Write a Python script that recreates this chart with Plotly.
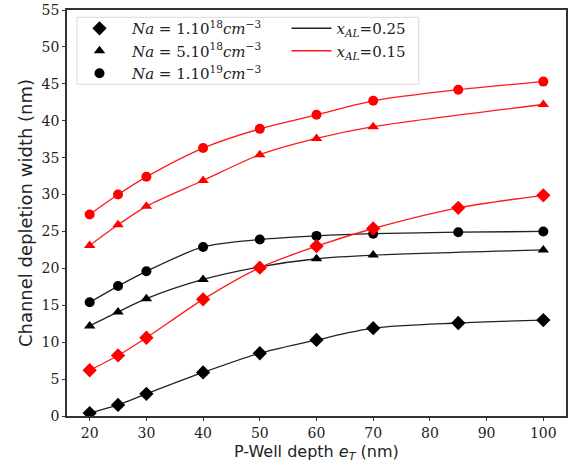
import plotly.graph_objects as go

x_full = [20, 25, 30, 40, 50, 60, 70, 85, 100]
x_tri = [20, 25, 30, 40, 50, 60, 70, 100]

# x_AL = 0.25 (black)
blk_na1e18 = [0.4, 1.5, 3.0, 5.9, 8.5, 10.3, 11.9, 12.6, 13.0]
blk_na5e18 = [12.2, 14.1, 15.9, 18.5, 20.2, 21.3, 21.8, 22.5]
blk_na1e19 = [15.4, 17.6, 19.6, 22.9, 23.9, 24.4, 24.7, 24.9, 25.0]
# x_AL = 0.15 (red)
red_na1e18 = [6.2, 8.2, 10.6, 15.8, 20.1, 23.0, 25.4, 28.2, 29.9]
red_na5e18 = [23.1, 25.9, 28.4, 31.9, 35.4, 37.6, 39.2, 42.2]
red_na1e19 = [27.3, 30.0, 32.4, 36.3, 38.9, 40.8, 42.7, 44.2, 45.3]

na_labels = ["<i>Na</i> = 1.10<sup>18</sup><i>cm</i><sup>−3</sup>",
             "<i>Na</i> = 5.10<sup>18</sup><i>cm</i><sup>−3</sup>",
             "<i>Na</i> = 1.10<sup>19</sup><i>cm</i><sup>−3</sup>"]
xal_labels = ["<i>x<sub>AL</sub></i>=0.25", "<i>x<sub>AL</sub></i>=0.15"]
symbols = ["diamond", "triangle-up", "circle"]
msizes = [11, 10, 10]
x_title = "P-Well depth <i>e<sub>T</sub></i> (nm)"
y_title = "Channel depletion width (nm)"

fig = go.Figure()

series = [
    (x_full, blk_na1e18, "black", 0), (x_tri, blk_na5e18, "black", 1), (x_full, blk_na1e19, "black", 2),
    (x_full, red_na1e18, "red", 0), (x_tri, red_na5e18, "red", 1), (x_full, red_na1e19, "red", 2),
]
for xs, ys, col, k in series:
    fig.add_trace(go.Scatter(
        x=xs, y=ys, mode="lines+markers",
        line=dict(color="#222222" if col == "black" else "#ff1a1a", width=1.3, shape="spline", smoothing=0.8),
        marker=dict(symbol=symbols[k], size=msizes[k], color="black" if col == "black" else "red"),
        showlegend=False, hoverinfo="x+y"))

for k in range(3):
    fig.add_trace(go.Scatter(x=[None], y=[None], mode="markers", name=na_labels[k],
                             marker=dict(symbol=symbols[k], size=msizes[k], color="black"),
                             legend="legend"))
for lab, col in zip(xal_labels, ["#222222", "#ff1a1a"]):
    fig.add_trace(go.Scatter(x=[None], y=[None], mode="lines", name=lab,
                             line=dict(color=col, width=1.5), legend="legend2"))

serif = "DejaVu Serif"
fig.add_shape(type="rect", xref="paper", yref="paper", x0=0.02, x1=0.705, y0=0.817, y1=0.982,
              line=dict(color="#d9d9d9", width=1), fillcolor="rgba(255,255,255,0.85)", layer="above")

fig.add_annotation(text=x_title, xref="paper", yref="paper", x=0.5, y=0, xanchor="center",
                   yanchor="top", yshift=-24, showarrow=False,
                   font=dict(family="DejaVu Sans", size=16, color="#222222"))

axis_common = dict(showline=True, mirror=True, linecolor="#333333", linewidth=1.5,
                   ticks="outside", ticklen=3, tickcolor="#333333", showgrid=False, zeroline=False,
                   ticklabeloverflow="allow", automargin=False,
                   tickfont=dict(family=serif, size=14, color="#222222"))

fig.update_layout(
    width=571, height=464,
    margin=dict(l=67, r=5, t=10, b=48),
    plot_bgcolor="white", paper_bgcolor="white",
    xaxis=dict(range=[16, 104], tickvals=[20, 30, 40, 50, 60, 70, 80, 90, 100], **axis_common),
    yaxis=dict(range=[0, 55], tickvals=list(range(0, 56, 5)),
               title=dict(text=y_title, standoff=4,
                          font=dict(family="DejaVu Sans", size=18, color="#222222")),
               **axis_common),
    legend=dict(x=0.0, y=0.995, xanchor="left", yanchor="top", bgcolor="rgba(0,0,0,0)",
                font=dict(family=serif, size=15, color="#222222"), itemwidth=55, tracegroupgap=0),
    legend2=dict(x=0.44, y=0.995, xanchor="left", yanchor="top", bgcolor="rgba(0,0,0,0)",
                 font=dict(family=serif, size=15, color="#222222"), itemwidth=40, tracegroupgap=0),
)

fig.write_html("out.html", config={"displayModeBar": False},
               post_script="document.body.style.margin='0';document.body.style.overflow='hidden';")
